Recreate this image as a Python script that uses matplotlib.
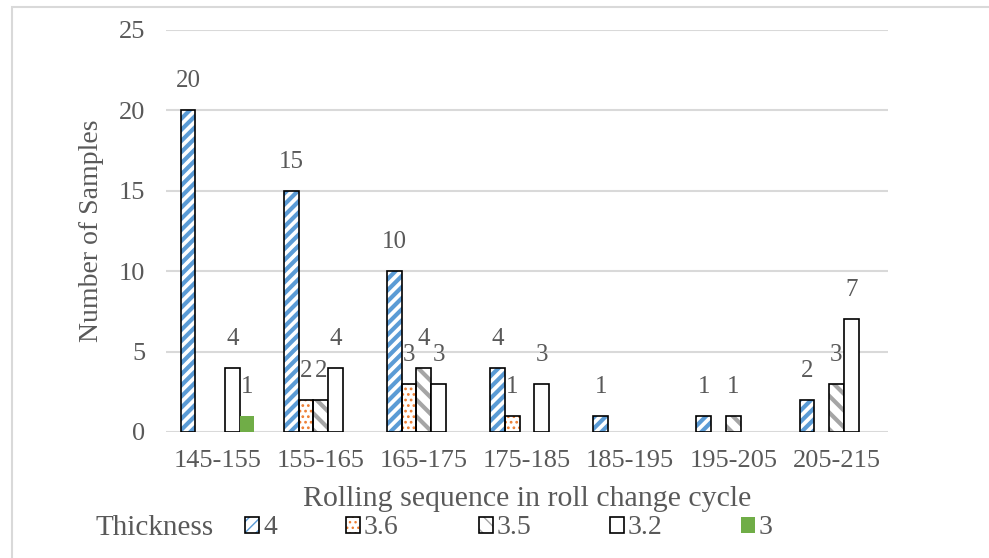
import numpy as np
import matplotlib
matplotlib.use('Agg')
import matplotlib.pyplot as plt
from matplotlib.patches import Rectangle

# ── Data ──────────────────────────────────────────────────────────────────────
categories = ['145-155', '155-165', '165-175', '175-185', '185-195', '195-205', '205-215']
series_names = ['4', '3.6', '3.5', '3.2', '3']
t_4 = [20, 15, 10, 4, 1, 1, 2]
t_36 = [0, 2, 3, 1, 0, 0, 0]
t_35 = [0, 2, 4, 0, 0, 1, 3]
t_32 = [4, 4, 3, 3, 0, 0, 7]
t_3 = [1, 0, 0, 0, 0, 0, 0]
values = [t_4, t_36, t_35, t_32, t_3]

# ── Style ─────────────────────────────────────────────────────────────────────
FONT = 'Liberation Serif'
TXT = '#595959'
GRID = '#D9D9D9'
plt.rcParams['font.family'] = FONT

# (hatch colour, hatch, hatch width, outline colour, face colour)
styles = [
    ('#5B9BD5', '///', 3.0, 'black', 'white'),
    ('#ED7D31', '...', 1.2, 'black', 'white'),
    ('#A5A5A5', '\\\\', 3.0, 'black', 'white'),
    (None, None, 1.0, 'black', 'white'),
    (None, None, 1.0, 'none', '#70AD47'),
]

fig = plt.figure(figsize=(9.89, 5.58), dpi=100)
ax = fig.add_axes([166 / 989, 126 / 558, 722 / 989, 402 / 558])

x = np.arange(len(categories))
width = 0.143
handles = []
for i, (name, vals) in enumerate(zip(series_names, values)):
    hcol, hatch, hlw, ecol, fcol = styles[i]
    pos = x + (i - 2) * width
    vals = np.array(vals)
    mask = vals > 0
    parts = []
    if hatch is not None:
        with plt.rc_context({'hatch.linewidth': hlw}):
            hb = ax.bar(pos[mask], vals[mask], width, color=fcol, edgecolor=hcol,
                        hatch=hatch, linewidth=0, zorder=2)
        parts.append(hb.patches[0])
    ob = ax.bar(pos[mask], vals[mask], width, facecolor=fcol if hatch is None else 'none',
                edgecolor=ecol, linewidth=1.2, zorder=3)
    parts.append(ob.patches[0])
    handles.append(tuple(parts))
    for p, v in zip(pos[mask], vals[mask]):
        ax.annotate(str(v), (p, v), textcoords='offset points', xytext=(0, 13),
                    ha='center', va='bottom', fontsize=18, color=TXT)

ax.set_ylim(0, 25)
ax.set_xlim(-0.5, len(categories) - 0.5)
ax.set_yticks([0, 5, 10, 15, 20, 25])
ax.set_xticks(x)
ax.set_xticklabels(categories)
ax.tick_params(length=0, labelsize=19, labelcolor=TXT)
ax.tick_params(axis='y', pad=15)
ax.tick_params(axis='x', pad=13)
ax.yaxis.grid(True, color=GRID, linewidth=1.5, zorder=0)
ax.set_axisbelow(True)
for s in ax.spines.values():
    s.set_visible(False)

ax.set_xlabel('Rolling sequence in roll change cycle', fontsize=21.5, color=TXT, labelpad=10)
ax.set_ylabel('Number of Samples', fontsize=20, color=TXT, labelpad=11)

# ── Legend (Excel-style row with leading title) ───────────────────────────────
LEG_Y = 1 - 528 / 558
fig.text(95 / 989, LEG_Y, 'Thickness', fontsize=21, color=TXT, ha='left', va='center')
leg_x = [245, 346, 479, 610, 741]
for h, name, lx in zip(handles, series_names, leg_x):
    fig.legend([h], [name], loc='center left', bbox_to_anchor=(lx / 989, LEG_Y),
               frameon=False, fontsize=20, labelcolor=TXT, handlelength=0.5,
               handleheight=0.5, handletextpad=0.15, borderpad=0, borderaxespad=0)

# outer chart frame
fig.add_artist(Rectangle((12 / 989, -0.1), 1.2, 1.1 - 7 / 558, transform=fig.transFigure,
                         fill=False, edgecolor=GRID, linewidth=1.5))

fig.savefig('out.png', dpi=100)
